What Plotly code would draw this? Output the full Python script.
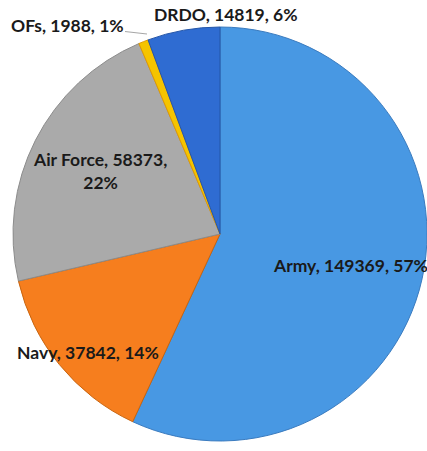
"""Pie chart of personnel by service, Plotly."""

import plotly.graph_objects as go

# data
labels = ["Army", "Navy", "Air Force", "OFs", "DRDO"]
values = [149369, 37842, 58373, 1988, 14819]

COLORS = {
    "Army": "#4898e3",
    "Navy": "#f67e1e",
    "Air Force": "#aaaaaa",
    "OFs": "#f5c400",
    "DRDO": "#2f6cd2",
}
EDGES = {
    "Army": "#3a7bbf",
    "Navy": "#c9650f",
    "Air Force": "#8c8c8c",
    "OFs": "#e39a00",
    "DRDO": "#2556a8",
}

W, H = 427, 451
FONT = "Lato, Carlito, Calibri, sans-serif"

total = sum(values)
pct = {l: round(100 * v / total) for l, v in zip(labels, values)}
val = dict(zip(labels, values))


def label_text(name, br=False):
    sep = ",<br>" if br else ", "
    return f"<b>{name}, {val[name]}{sep}{pct[name]}%</b>"


fig = go.Figure(
    go.Pie(
        labels=labels,
        values=values,
        sort=False,
        direction="clockwise",
        rotation=0,
        textinfo="none",
        hoverinfo="label+value+percent",
        marker=dict(
            colors=[COLORS[l] for l in labels],
            line=dict(color=[EDGES[l] for l in labels], width=1),
        ),
        domain=dict(x=[13 / W, 1.0], y=[1 / H, 1 - 18 / H]),
        showlegend=False,
    )
)

# label positions in pixels (text centres)
label_pos = {
    "Army": (350, 265),
    "Navy": (88, 352),
    "Air Force": (100, 171),
    "DRDO": (226, 15),
}

annotations = []
for name, (px_, py_) in label_pos.items():
    annotations.append(
        dict(
            text=label_text(name, br=(name == "Air Force")),
            x=px_ / W,
            y=1 - py_ / H,
            xref="paper",
            yref="paper",
            xanchor="center",
            yanchor="middle",
            showarrow=False,
            align="center",
        )
    )

# OFs label sits outside with a thin leader line
annotations.append(
    dict(
        text=label_text("OFs"),
        x=147 / W,
        y=1 - 34 / H,
        xref="paper",
        yref="paper",
        showarrow=True,
        arrowhead=0,
        arrowwidth=1,
        arrowcolor="#a6a6a6",
        ax=-80,
        ay=-9,
    )
)

fig.update_layout(
    width=W,
    height=H,
    margin=dict(l=0, r=0, t=0, b=0),
    paper_bgcolor="white",
    plot_bgcolor="white",
    font=dict(family=FONT, size=17.5, color="#1a1a1a"),
    annotations=annotations,
)

# drop the browser's default body margin so the figure sits at 0,0
fig.write_html(
    "out.html",
    config={"displayModeBar": False},
    post_script="document.body.style.margin = '0';",
)
